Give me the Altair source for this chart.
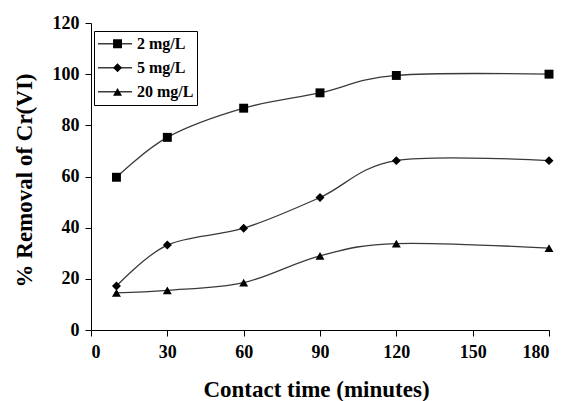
import altair as alt
import pandas as pd

# Contact time (minutes) and % removal of Cr(VI) per initial concentration
minutes = [10, 30, 60, 90, 120, 180]
series_names = ["2 mg/L", "5 mg/L", "20 mg/L"]
removal_2 = [59.7, 75.3, 86.7, 92.7, 99.5, 100.0]
removal_5 = [17.2, 33.2, 39.8, 51.8, 66.2, 66.2]
removal_20 = [14.5, 15.5, 18.5, 29.0, 33.8, 32.0]

x_ticks = [0, 30, 60, 90, 120, 150, 180]
y_ticks = [0, 20, 40, 60, 80, 100, 120]

rows = []
for name, vals in zip(series_names, [removal_2, removal_5, removal_20]):
    for t, v in zip(minutes, vals):
        # "marker" repeats the series name so the marker key gets its own legend
        rows.append({"minutes": t, "removal": v, "series": name, "marker": name})
df = pd.DataFrame(rows)

FONT = "'Liberation Serif', 'Times New Roman', Times, serif"
LINE_COLOR = "#3a3a3a"

x_enc = alt.X(
    "minutes:Q",
    scale=alt.Scale(domain=[0, 180], nice=False),
    axis=alt.Axis(
        values=x_ticks,
        title="Contact time (minutes)",
        titleX=225,
        titleY=66,
        titleAlign="center",
        titleBaseline="alphabetic",
        labelPadding=7,
    ),
)
y_enc = alt.Y(
    "removal:Q",
    scale=alt.Scale(domain=[0, 120], nice=False),
    axis=alt.Axis(
        values=y_ticks,
        title="% Removal of Cr(VI)",
        titleX=-60,
        titleY=157,
        titleAngle=-90,
        titleAlign="center",
        titleBaseline="alphabetic",
        labelPadding=6,
    ),
)

# shared legend geometry: the line key and the marker key sit on the same rows
LEG_X, LEG_Y, LEG_PAD = 3, 8, 3
KEY_WIDTH = 34
MARKER_SIZE = 80
ROW_H, ROW_GAP = 19.6, 4

line_legend = alt.Legend(
    title=None,
    orient="none",
    legendX=LEG_X,
    legendY=LEG_Y,
    padding=LEG_PAD,
    strokeColor="black",
    symbolType="stroke",
    symbolSize=KEY_WIDTH ** 2,
    symbolStrokeColor=LINE_COLOR,
    symbolStrokeWidth=1.4,
    clipHeight=ROW_H,
    rowPadding=ROW_GAP,
    labelOffset=4,
    labelFont=FONT,
    labelFontWeight="bold",
    labelFontSize=16,
    labelColor="black",
)

# markers only: no labels, placed over the middle of each line key
marker_legend = alt.Legend(
    title=None,
    orient="none",
    legendX=LEG_X + LEG_PAD + KEY_WIDTH / 2 - MARKER_SIZE ** 0.5 / 2,
    legendY=LEG_Y + LEG_PAD,
    padding=0,
    symbolSize=MARKER_SIZE,
    symbolFillColor="black",
    symbolStrokeColor="black",
    symbolStrokeWidth=0,
    symbolOpacity=1,
    clipHeight=ROW_H,
    rowPadding=ROW_GAP,
    labelExpr="''",
    labelFontSize=16,
)

base = alt.Chart(df)

lines = base.mark_line(
    interpolate="cardinal", tension=0, strokeWidth=1.3
).encode(
    x=x_enc,
    y=y_enc,
    color=alt.Color(
        "series:N",
        scale=alt.Scale(domain=series_names, range=[LINE_COLOR] * 3),
        legend=line_legend,
    ),
)

# the marker scale takes its domain from the data (ordered by sort),
# which keeps its legend separate from the line legend
points = base.mark_point(
    filled=True, color="black", opacity=1, size=MARKER_SIZE
).encode(
    x=x_enc,
    y=y_enc,
    shape=alt.Shape(
        "marker:N",
        sort=series_names,
        scale=alt.Scale(range=["square", "diamond", "triangle-up"]),
        legend=marker_legend,
    ),
)

chart = (
    alt.layer(lines, points)
    .properties(
        width=458,
        height=307,
        autosize=alt.AutoSizeParams(type="none"),
        padding={"left": 91, "top": 23, "right": 15, "bottom": 71},
    )
    .configure_view(stroke=None)
    .configure_axis(
        grid=False,
        domainColor="black",
        domainWidth=1,
        tickColor="black",
        tickSize=6,
        tickWidth=1,
        labelFont=FONT,
        labelFontWeight="bold",
        labelFontSize=18,
        labelColor="black",
        titleFont=FONT,
        titleFontWeight="bold",
        titleFontSize=23,
        titleColor="black",
    )
)

chart.save("out.html", embed_options={"renderer": "svg", "actions": False})
